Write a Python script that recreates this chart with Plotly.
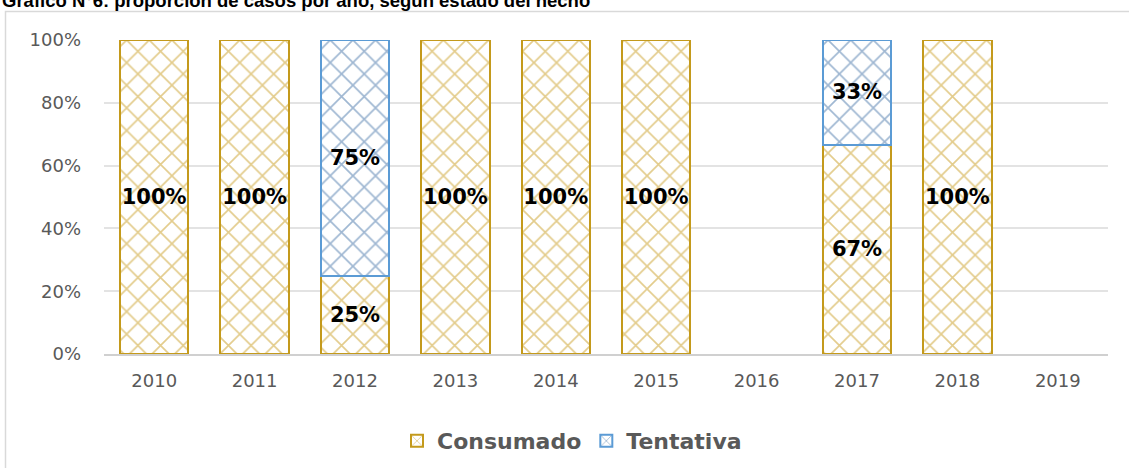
import plotly.graph_objects as go

years = ["2010", "2011", "2012", "2013", "2014", "2015", "2016", "2017", "2018", "2019"]
consumado = [1.0, 1.0, 0.25, 1.0, 1.0, 1.0, None, 0.6667, 1.0, None]
tentativa = [None, None, 0.75, None, None, None, None, 0.3333, None, None]
y_ticks = [0, 0.2, 0.4, 0.6, 0.8, 1.0]
y_tick_text = ["0%", "20%", "40%", "60%", "80%", "100%"]
title_text = "Gráfico N°6: proporción de casos por año, según estado del hecho"

W, H = 1129, 468
L, R, T, B = 104, 21, 40, 114
pw, ph = W - L - R, H - T - B

def px_x(p):
    return (p - L) / pw

def px_y(p):
    return 1 - (p - T) / ph

gold_line = "#C49A1C"
gold_pat = "#C79A1A"
blue_line = "#5B9BD5"
blue_pat = "#3F6FA5"

label_font = dict(family="DejaVu Sans", size=21, color="black", weight="bold")

fig = go.Figure()
fig.add_bar(
    x=years, y=consumado, name="Consumado",
    marker=dict(color="white", line=dict(color=gold_line, width=2),
                pattern=dict(shape="x", fgcolor=gold_pat, bgcolor="white", size=16, solidity=0.2)),
    texttemplate="%{y:.0%}", textposition="inside", insidetextanchor="middle", textangle=0,
    insidetextfont=label_font, constraintext="none", hoverinfo="skip",
)
fig.add_bar(
    x=years, y=tentativa, name="Tentativa",
    marker=dict(color="white", line=dict(color=blue_line, width=2),
                pattern=dict(shape="x", fgcolor=blue_pat, bgcolor="white", size=16, solidity=0.2)),
    texttemplate="%{y:.0%}", textposition="inside", insidetextanchor="middle", textangle=0,
    insidetextfont=label_font, constraintext="none", hoverinfo="skip",
)

fig.update_layout(
    width=W, height=H,
    margin=dict(l=L, r=R, t=T, b=B, autoexpand=False),
    barmode="stack", bargap=0.32,
    plot_bgcolor="white", paper_bgcolor="white",
    font=dict(family="DejaVu Sans", color="#595959"),
    showlegend=True,
    legend=dict(orientation="h", x=px_x(572), xanchor="center", y=px_y(441), yanchor="middle",
                font=dict(size=22, color="#595959", family="DejaVu Sans", weight="bold"),
                itemwidth=30, traceorder="normal", bgcolor="rgba(0,0,0,0)"),
    xaxis=dict(type="category", showgrid=False, showline=True, linecolor="#D0D0D0", linewidth=1.5,
               ticks="", tickfont=dict(size=18, color="#595959"), ticklabelstandoff=10),
    yaxis=dict(range=[0, 1.0], tickvals=y_ticks, ticktext=y_tick_text, showgrid=True,
               gridcolor="#E3E3E3", gridwidth=1.5, zeroline=False, showline=False,
               tickfont=dict(size=18, color="#595959"), ticklabelstandoff=22, fixedrange=True),
    shapes=[dict(type="rect", xref="paper", yref="paper",
                 x0=px_x(5.5), x1=px_x(1160), y0=px_y(520), y1=px_y(11.5),
                 line=dict(color="#D9D9D9", width=1.5), fillcolor="rgba(0,0,0,0)", layer="below")],
    annotations=[dict(text=title_text, xref="paper", yref="paper",
                      x=px_x(0), xanchor="left", y=px_y(13), yanchor="bottom", showarrow=False,
                      font=dict(size=18.5, color="black", family="Liberation Sans", weight="bold"))],
)

fig.write_html("out.html", config={"displayModeBar": False},
               post_script="document.body.style.margin='0';")
